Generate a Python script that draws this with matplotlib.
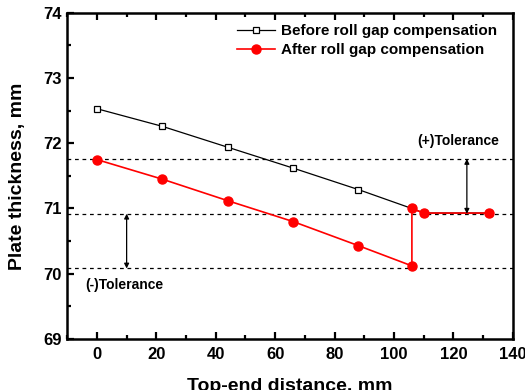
import matplotlib
matplotlib.use("Agg")
import matplotlib.pyplot as plt
from matplotlib.ticker import MultipleLocator

plt.rcParams['font.family'] = ['Liberation Sans', 'DejaVu Sans']
plt.rcParams['font.weight'] = 'bold'

# data
x_before = [0, 22, 44, 66, 88, 106, 110, 132]
y_before = [72.53, 72.26, 71.94, 71.62, 71.29, 71.0, 70.93, 70.93]
x_after = [0, 22, 44, 66, 88, 106, 106, 110, 132]
y_after = [71.75, 71.45, 71.12, 70.80, 70.43, 70.12, 71.0, 70.93, 70.93]
tol_upper, nominal, tol_lower = 71.76, 70.92, 70.08

fig = plt.figure(figsize=(5.25, 3.9), dpi=100)
ax = fig.add_axes([0.128, 0.131, 0.849, 0.836])

for yv in (tol_upper, nominal, tol_lower):
    ax.axhline(yv, color='k', ls=(0, (3, 3)), lw=0.9, zorder=1)

ax.plot(x_before, y_before, color='k', lw=0.9, marker='s', ms=5,
        mfc='white', mec='k', mew=0.9, label='Before roll gap compensation', zorder=2)
ax.plot(x_after, y_after, color='red', lw=1.2, marker='o', ms=6.5,
        mfc='red', mec='red', label='After roll gap compensation', zorder=3)

arr = dict(arrowstyle='<|-|>', color='k', lw=0.9, mutation_scale=7, shrinkA=0, shrinkB=0)
ax.annotate('', xy=(124.5, tol_upper), xytext=(124.5, nominal), arrowprops=arr)
ax.annotate('', xy=(10, nominal), xytext=(10, tol_lower), arrowprops=arr)
ax.text(135.5, 71.93, '(+)Tolerance', ha='right', va='bottom', fontsize=10, fontweight='bold')
ax.text(-4, 69.83, '(-)Tolerance', ha='left', va='center', fontsize=10, fontweight='bold')

ax.set_xlim(-10, 140)
ax.set_ylim(69, 74)
ax.xaxis.set_major_locator(MultipleLocator(20))
ax.xaxis.set_minor_locator(MultipleLocator(10))
ax.yaxis.set_major_locator(MultipleLocator(1))
ax.yaxis.set_minor_locator(MultipleLocator(0.5))
ax.tick_params(which='both', direction='in', top=True, right=False, width=1.6,
               labelsize=12)
ax.tick_params(which='major', length=5)
ax.tick_params(which='minor', length=3)
ax.tick_params(axis='x', which='both', top=True, pad=6)
ax.tick_params(axis='y', pad=4)
for lab in ax.get_xticklabels() + ax.get_yticklabels():
    lab.set_fontweight('bold')
for s in ax.spines.values():
    s.set_linewidth(1.8)

ax.set_xlabel('Top-end distance, mm', fontsize=14, fontweight='bold', labelpad=11)
ax.set_ylabel('Plate thickness, mm', fontsize=14, fontweight='bold', labelpad=12)

ax.legend(loc='upper left', bbox_to_anchor=(0.35, 1.008), frameon=False,
          handlelength=2.5, handletextpad=0.4, labelspacing=0.35,
          prop={'weight': 'bold', 'size': 11})

fig.savefig('out.png', dpi=100)
